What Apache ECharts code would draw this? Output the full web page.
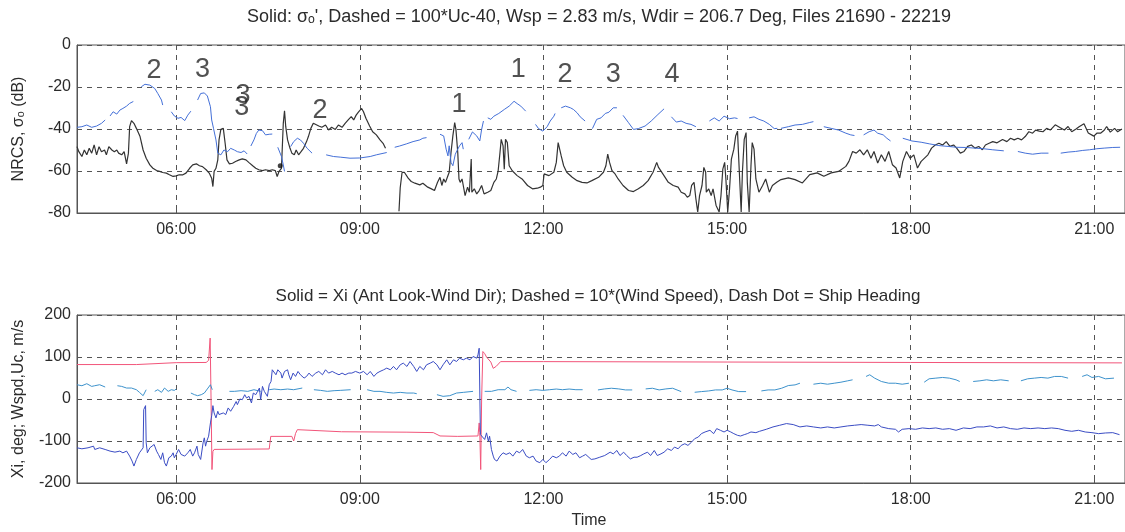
<!DOCTYPE html>
<html>
<head>
<meta charset="utf-8">
<script src="https://cdn.jsdelivr.net/npm/echarts@6/dist/echarts.min.js"></script>
<style>
  html, body { margin: 0; background: #fff; }
  #chart { width: 1125px; height: 532px; }
</style>
</head>
<body>
<div id="chart"></div>
<script>
// time axis, decimal hours
const tickHours = [6, 9, 12, 15, 18, 21]

// top panel: solid = sigma_o (dB), pieces of the line
const sigmaSolid = [
  [[4.38,-48.4],[4.41,-50.8],[4.46,-53.1],[4.50,-50.0],[4.54,-52.3],[4.58,-49.2],[4.62,-51.5],[4.66,-47.6],[4.70,-52.3],[4.74,-48.4],[4.78,-50.8],[4.83,-50.0],[4.86,-52.3],[4.90,-48.4],[4.95,-50.0],[4.99,-50.8],[5.03,-50.0],[5.06,-51.5],[5.11,-52.3],[5.15,-50.8],[5.19,-56.6],[5.22,-51.5],[5.24,-38.9],[5.27,-36.0],[5.31,-37.3],[5.35,-39.7],[5.41,-43.6],[5.46,-50.0],[5.51,-53.9],[5.57,-57.1],[5.62,-58.7],[5.68,-59.8],[5.73,-60.2],[5.78,-60.7],[5.84,-61.0],[5.89,-61.8],[5.95,-62.6],[6.00,-62.3],[6.05,-61.8],[6.11,-61.8],[6.16,-61.0],[6.22,-58.7],[6.27,-57.1],[6.33,-56.6],[6.38,-57.5],[6.43,-57.9],[6.49,-59.4],[6.54,-61.0],[6.58,-63.4],[6.60,-67.4],[6.62,-60.2],[6.65,-58.7],[6.68,-54.7],[6.70,-45.2],[6.73,-40.2],[6.77,-39.7],[6.80,-46.8],[6.83,-54.7],[6.87,-56.6],[6.92,-56.3],[6.97,-55.5],[7.03,-54.7],[7.08,-54.2],[7.14,-54.7],[7.19,-56.0],[7.25,-57.5],[7.30,-58.7],[7.35,-59.4],[7.41,-59.8],[7.46,-59.4],[7.52,-59.8],[7.57,-59.4],[7.62,-59.8],[7.65,-62.6],[7.68,-60.2],[7.72,-58.7],[7.75,-37.3],[7.77,-31.3],[7.79,-38.9],[7.82,-45.2],[7.86,-49.2],[7.89,-51.5],[7.93,-52.3],[7.96,-50.0],[8.00,-52.3],[8.04,-50.8],[8.08,-49.2],[8.13,-46.0],[8.16,-43.6],[8.20,-39.7],[8.24,-37.3],[8.27,-37.3],[8.33,-38.6],[8.38,-39.2],[8.44,-38.1],[8.49,-40.5],[8.54,-39.2],[8.60,-40.2],[8.65,-38.1],[8.71,-39.2],[8.76,-37.3],[8.81,-35.7],[8.86,-34.1],[8.90,-35.7],[8.94,-33.4],[8.98,-31.8],[9.03,-30.2],[9.06,-31.8],[9.10,-34.9],[9.16,-38.6],[9.21,-41.3],[9.27,-42.8],[9.33,-45.2],[9.38,-46.8],[9.42,-49.2]],
  [[9.64,-79.2],[9.66,-68.0],[9.69,-60.7],[9.73,-60.7],[9.79,-63.4],[9.84,-65.0],[9.90,-65.8],[9.98,-66.6],[10.03,-65.8],[10.06,-66.2],[10.11,-67.7],[10.17,-68.5],[10.22,-69.3],[10.25,-66.9],[10.27,-65.4],[10.31,-63.0],[10.34,-66.9],[10.37,-63.8],[10.40,-65.4],[10.43,-63.0],[10.46,-60.6],[10.49,-51.2],[10.52,-43.3],[10.55,-37.0],[10.57,-40.2],[10.60,-51.2],[10.62,-63.8],[10.64,-65.4],[10.67,-63.8],[10.69,-66.9],[10.72,-71.7],[10.76,-67.7],[10.79,-70.1],[10.82,-54.3],[10.83,-70.1],[10.87,-68.5],[10.91,-70.9],[10.95,-69.3],[10.99,-66.9],[11.03,-70.9],[11.09,-70.1],[11.14,-69.3],[11.19,-65.4],[11.23,-63.8],[11.26,-59.9],[11.29,-51.2],[11.31,-44.9],[11.34,-48.0],[11.36,-59.1],[11.38,-44.9],[11.41,-46.5],[11.44,-57.5],[11.49,-59.9],[11.57,-62.2],[11.65,-63.8],[11.74,-66.9],[11.82,-68.5],[11.90,-68.2],[11.95,-67.7],[11.99,-66.9],[12.01,-61.4],[12.09,-62.2],[12.17,-60.6],[12.21,-55.9],[12.24,-46.5],[12.26,-45.7],[12.29,-52.8],[12.33,-57.5],[12.38,-60.6],[12.47,-63.0],[12.55,-64.6],[12.63,-65.4],[12.71,-65.7],[12.79,-64.6],[12.90,-63.0],[12.98,-60.6],[13.02,-57.5],[13.05,-52.0],[13.08,-55.9],[13.12,-59.9],[13.17,-61.4],[13.22,-63.8],[13.30,-66.9],[13.39,-69.3],[13.47,-69.8],[13.55,-68.5],[13.63,-66.9],[13.71,-64.6],[13.79,-60.6],[13.85,-55.9],[13.88,-58.3],[13.95,-61.4],[14.04,-65.4],[14.12,-66.9],[14.20,-67.7],[14.25,-70.1],[14.31,-70.9],[14.35,-72.5],[14.39,-71.7],[14.42,-66.9],[14.46,-65.4],[14.49,-73.2],[14.52,-79.5],[14.55,-71.7],[14.59,-66.9],[14.62,-58.3],[14.65,-60.6],[14.66,-70.1],[14.70,-68.5],[14.74,-71.7],[14.77,-68.5],[14.82,-76.4],[14.87,-79.5],[14.90,-71.7],[14.93,-59.1],[14.96,-55.9],[14.98,-63.8],[15.01,-79.5],[15.04,-68.5],[15.07,-54.3],[15.11,-49.6],[15.14,-43.3],[15.17,-41.0],[15.20,-60.6],[15.23,-79.5],[15.25,-60.6],[15.28,-44.9],[15.31,-41.7],[15.33,-65.4],[15.36,-79.5],[15.39,-57.5],[15.41,-46.5],[15.44,-49.6],[15.47,-63.8],[15.52,-70.1],[15.58,-66.9],[15.63,-63.8],[15.69,-70.1],[15.74,-66.9],[15.81,-65.4],[15.88,-64.1],[16.00,-63.3],[16.11,-64.1],[16.23,-65.7],[16.35,-61.7],[16.47,-60.9],[16.58,-62.5],[16.70,-60.9],[16.82,-60.2],[16.94,-57.8],[16.99,-55.4],[17.05,-50.7],[17.11,-51.5],[17.17,-49.9],[17.23,-52.3],[17.29,-49.9],[17.35,-53.9],[17.40,-50.7],[17.46,-56.2],[17.52,-52.3],[17.58,-55.4],[17.64,-50.7],[17.70,-57.0],[17.76,-58.6],[17.82,-63.3],[17.87,-55.4],[17.93,-50.7],[17.99,-53.9],[18.05,-52.3],[18.11,-58.6],[18.17,-55.4],[18.28,-52.3],[18.34,-49.1],[18.40,-47.6],[18.46,-46.8],[18.52,-47.6],[18.58,-46.0],[18.64,-48.3],[18.70,-47.6],[18.75,-49.1],[18.81,-51.5],[18.87,-50.7],[18.93,-48.3],[18.99,-47.6],[19.05,-49.1],[19.11,-48.3],[19.17,-49.9],[19.22,-47.6],[19.28,-46.8],[19.34,-46.0],[19.41,-46.6],[19.50,-45.0],[19.57,-46.0],[19.63,-44.4],[19.69,-45.2],[19.75,-44.4],[19.81,-45.2],[19.87,-43.6],[19.93,-41.3],[19.99,-42.0],[20.04,-40.5],[20.10,-41.0],[20.16,-41.3],[20.22,-39.7],[20.28,-40.5],[20.36,-38.0],[20.45,-39.5],[20.51,-40.5],[20.57,-38.8],[20.63,-41.3],[20.70,-40.0],[20.75,-38.9],[20.83,-37.5],[20.90,-41.9],[20.99,-43.4],[21.04,-42.0],[21.10,-42.0],[21.16,-40.6],[21.20,-38.8],[21.26,-41.5],[21.33,-39.7],[21.38,-41.3],[21.45,-40.0]]
]

// top panel: dashed = 100*Uc-40, drawn in short pieces
const ucDashed = [
  [[4.38,-39.2],[4.46,-38.9],[4.54,-38.1],[4.62,-39.2],[4.70,-38.6],[4.78,-37.3],[4.84,-35.7]],
  [[4.92,-33.8],[4.97,-31.8],[5.03,-32.9],[5.08,-31.0],[5.13,-30.2],[5.19,-29.1],[5.24,-27.8],[5.30,-26.9]],
  [[5.43,-19.9],[5.49,-18.7],[5.57,-19.1],[5.65,-20.7],[5.70,-23.1],[5.76,-26.2],[5.78,-28.6]],
  [[5.92,-31.8],[5.97,-33.8],[6.03,-34.9],[6.08,-34.5],[6.14,-36.0],[6.19,-33.4],[6.24,-31.5]],
  [[6.35,-26.2],[6.40,-23.1],[6.46,-22.8],[6.51,-24.3],[6.56,-29.4],[6.58,-35.7],[6.61,-39.7],[6.65,-45.2],[6.68,-51.5],[6.73,-52.3],[6.78,-50.0],[6.84,-50.8],[6.89,-49.2],[6.95,-50.0],[7.00,-50.8],[7.06,-51.2],[7.11,-50.4],[7.16,-51.9]],
  [[7.22,-48.1],[7.27,-45.2],[7.31,-42.1],[7.35,-40.5],[7.41,-40.8],[7.46,-42.8],[7.52,-42.5],[7.57,-42.4]],
  [[7.66,-48.7],[7.72,-53.1],[7.75,-57.1],[7.77,-60.2]],
  [[7.87,-48.4],[7.92,-46.0],[7.98,-44.4],[8.03,-45.2],[8.08,-46.8],[8.14,-49.2],[8.22,-51.5]],
  [[8.45,-52.3],[8.57,-53.1],[8.68,-53.4],[8.84,-53.9],[9.00,-53.8],[9.17,-53.1],[9.27,-52.3],[9.44,-51.2]],
  [[9.57,-48.7],[9.65,-48.1],[9.76,-47.1],[9.87,-46.0],[9.98,-45.2],[10.03,-44.4],[10.09,-44.1]],
  [[10.31,-42.5],[10.37,-43.3],[10.41,-49.6],[10.44,-52.8],[10.46,-48.0],[10.49,-55.9],[10.52,-57.5],[10.56,-52.0],[10.60,-49.6],[10.63,-48.0],[10.67,-46.5],[10.69,-49.6]],
  [[10.78,-44.9],[10.84,-41.4],[10.91,-43.3],[10.96,-45.7],[10.99,-40.2],[11.02,-36.2]],
  [[11.09,-34.7],[11.14,-35.4],[11.19,-33.9],[11.27,-32.6],[11.36,-30.7],[11.44,-29.1],[11.52,-26.8],[11.57,-27.9],[11.63,-29.1],[11.71,-31.5]],
  [[11.87,-37.8],[11.92,-39.8],[11.99,-41.0],[12.06,-38.9],[12.11,-36.2],[12.17,-33.9],[12.19,-32.6]],
  [[12.29,-29.9],[12.36,-29.1],[12.44,-29.9],[12.49,-30.7],[12.55,-32.3],[12.60,-34.2],[12.68,-36.2]],
  [[12.80,-39.8],[12.87,-35.4],[12.94,-34.7],[13.01,-32.6],[13.07,-32.0],[13.14,-29.9],[13.20,-29.9]],
  [[13.30,-33.5],[13.39,-37.0],[13.47,-40.2],[13.55,-39.8],[13.66,-38.6],[13.76,-36.2],[13.87,-33.1],[13.97,-30.4]],
  [[14.09,-34.2],[14.17,-36.7],[14.25,-36.2],[14.33,-37.3],[14.41,-37.8],[14.49,-38.9]],
  [[14.71,-36.2],[14.79,-34.7],[14.87,-36.2],[14.95,-33.9],[15.04,-35.1],[15.12,-34.7],[15.17,-35.0]],
  [[15.36,-34.7],[15.44,-34.2],[15.52,-35.4],[15.60,-36.2],[15.69,-37.8],[15.77,-39.8],[15.82,-39.7]],
  [[15.88,-39.7],[16.00,-38.9],[16.11,-38.1],[16.23,-37.8],[16.35,-36.9],[16.41,-36.5]],
  [[16.58,-38.9],[16.70,-39.7],[16.82,-40.5],[16.94,-42.0],[17.02,-42.8],[17.08,-43.1]],
  [[17.23,-42.8],[17.32,-41.3],[17.40,-40.5],[17.46,-42.0],[17.55,-42.8],[17.61,-44.4],[17.67,-45.7]],
  [[17.87,-44.4],[18.02,-45.7],[18.17,-46.3],[18.31,-47.1],[18.46,-47.9],[18.61,-48.3],[18.75,-48.7],[18.90,-48.8],[19.05,-49.1],[19.19,-49.4],[19.34,-49.9],[19.52,-50.4]],
  [[19.75,-50.7],[19.87,-51.5],[19.99,-52.0],[20.13,-51.5],[20.25,-51.5]],
  [[20.45,-51.5],[20.57,-51.0],[20.69,-50.7],[20.81,-50.2],[20.92,-49.9],[21.04,-49.4],[21.16,-49.1],[21.30,-48.8],[21.42,-48.7]]
]

// run numbers written over the top panel
const runLabels = [
  [5.64,-12.0,'2'],[6.43,-11.5,'3'],[7.09,-24.0,'3'],[7.07,-30.0,'3'],[8.35,-31.0,'2'],
  [10.62,-28.4,'1'],[11.59,-11.8,'1'],[12.35,-14.2,'2'],[13.14,-14.2,'3'],[14.10,-14.2,'4']
]
const markerDot = [[7.70,-57.5]]

// bottom panel: solid = Xi (deg)
const xiSolid = [
  [4.38,-116.2],[4.46,-118.6],[4.56,-116.2],[4.65,-112.3],[4.67,-120.2],[4.75,-116.2],[4.84,-120.2],[4.92,-124.1],[5.00,-126.5],[5.08,-124.1],[5.13,-128.1],[5.19,-124.1],[5.24,-136.0],[5.28,-147.8],[5.31,-159.7],[5.35,-143.9],[5.40,-128.1],[5.43,-132.0],[5.46,-116.2],[5.47,-25.3],[5.50,-15.8],[5.51,-104.3],[5.53,-128.1],[5.57,-116.2],[5.60,-120.2],[5.64,-108.3],[5.68,-124.1],[5.71,-132.0],[5.75,-143.9],[5.78,-128.1],[5.81,-151.6],[5.84,-159.7],[5.88,-139.9],[5.92,-136.0],[5.95,-128.1],[5.97,-139.9],[6.00,-132.0],[6.04,-120.2],[6.08,-132.0],[6.14,-136.0],[6.19,-128.1],[6.23,-120.2],[6.27,-136.0],[6.30,-128.1],[6.34,-112.3],[6.36,-132.0],[6.40,-143.9],[6.42,-147.8],[6.44,-104.3],[6.46,-92.5],[6.48,-112.3],[6.50,-100.4],[6.53,-88.5],[6.56,-56.9],[6.58,-40.0],[6.60,-15.8],[6.62,-33.2],[6.65,-45.0],[6.68,-29.2],[6.70,-37.0],[6.73,-41.1],[6.77,-33.2],[6.81,-37.0],[6.85,-21.3],[6.89,-29.2],[6.94,-17.4],[6.98,-6.0],[7.00,-13.4],[7.04,0.0],[7.08,-1.6],[7.12,10.3],[7.15,2.4],[7.19,6.3],[7.23,-9.5],[7.26,14.2],[7.30,10.3],[7.33,18.2],[7.36,26.1],[7.38,-1.6],[7.41,30.0],[7.44,18.2],[7.46,14.2],[7.49,6.3],[7.52,34.0],[7.55,41.9],[7.57,69.6],[7.60,65.6],[7.63,57.7],[7.66,69.6],[7.71,61.7],[7.73,49.8],[7.77,65.6],[7.82,69.6],[7.84,57.7],[7.87,45.8],[7.91,61.7],[7.95,53.8],[7.99,65.6],[8.03,57.7],[8.09,49.8],[8.13,53.8],[8.17,61.7],[8.22,53.8],[8.28,61.7],[8.33,65.6],[8.39,57.7],[8.44,69.6],[8.49,61.7],[8.55,65.6],[8.60,61.7],[8.66,57.7],[8.71,61.7],[8.76,57.7],[8.82,61.7],[8.87,61.7],[8.93,65.6],[9.00,61.7],[9.06,65.6],[9.12,57.7],[9.17,65.6],[9.23,53.8],[9.28,61.7],[9.33,65.6],[9.39,69.6],[9.44,73.5],[9.50,69.6],[9.55,77.5],[9.60,69.6],[9.66,81.4],[9.71,85.4],[9.77,77.5],[9.82,89.3],[9.88,77.5],[9.93,65.6],[9.98,77.5],[10.04,69.6],[10.09,81.4],[10.15,85.4],[10.20,89.3],[10.26,81.4],[10.31,69.6],[10.36,81.4],[10.42,93.3],[10.47,81.4],[10.53,93.3],[10.58,89.3],[10.63,97.2],[10.69,93.3],[10.74,97.2],[10.80,93.3],[10.85,101.2],[10.91,97.2],[10.93,105.1],[10.95,120.9],[10.97,-84.6],[11.00,-84.6],[11.04,-96.4],[11.07,-80.6],[11.10,-100.4],[11.12,-88.5],[11.15,-120.2],[11.18,-136.0],[11.20,-143.9],[11.24,-147.8],[11.29,-136.0],[11.34,-128.1],[11.39,-132.0],[11.45,-128.1],[11.50,-136.0],[11.56,-124.1],[11.61,-128.1],[11.66,-120.2],[11.72,-136.0],[11.77,-139.9],[11.83,-136.0],[11.88,-147.8],[11.94,-151.6],[11.99,-143.9],[12.04,-151.6],[12.10,-143.9],[12.15,-136.0],[12.21,-139.9],[12.26,-136.0],[12.31,-128.1],[12.37,-136.0],[12.42,-124.1],[12.48,-132.0],[12.53,-128.1],[12.59,-139.9],[12.64,-136.0],[12.69,-132.0],[12.78,-143.9],[12.84,-142.6],[12.92,-138.6],[13.00,-134.6],[13.09,-126.6],[13.14,-130.6],[13.20,-122.6],[13.25,-134.6],[13.31,-126.6],[13.36,-134.6],[13.42,-142.6],[13.48,-138.6],[13.53,-138.6],[13.59,-134.6],[13.64,-130.6],[13.70,-126.6],[13.75,-134.6],[13.81,-122.6],[13.86,-134.6],[13.92,-130.6],[13.97,-126.6],[14.03,-118.5],[14.09,-122.6],[14.14,-114.5],[14.20,-118.5],[14.25,-110.5],[14.31,-106.5],[14.36,-110.5],[14.42,-102.5],[14.47,-94.5],[14.53,-90.5],[14.58,-82.5],[14.64,-78.5],[14.72,-74.5],[14.78,-82.5],[14.83,-70.5],[14.89,-74.5],[14.95,-78.5],[15.00,-74.5],[15.06,-78.5],[15.11,-82.5],[15.17,-86.5],[15.22,-88.1],[15.28,-84.9],[15.33,-82.5],[15.39,-78.5],[15.47,-80.1],[15.53,-76.9],[15.64,-72.1],[15.75,-66.5],[15.86,-62.5],[15.97,-58.5],[16.08,-60.9],[16.19,-66.5],[16.30,-64.1],[16.41,-66.5],[16.53,-68.9],[16.64,-66.5],[16.75,-68.9],[16.86,-66.5],[16.97,-64.1],[17.08,-62.5],[17.19,-60.9],[17.30,-62.5],[17.41,-64.1],[17.47,-60.9],[17.52,-66.5],[17.64,-70.5],[17.75,-72.1],[17.80,-78.5],[17.86,-72.1],[17.97,-70.5],[18.08,-72.1],[18.19,-68.9],[18.30,-70.5],[18.41,-68.9],[18.52,-72.1],[18.63,-70.5],[18.74,-74.5],[18.86,-68.9],[18.97,-70.5],[19.08,-66.5],[19.19,-66.5],[19.30,-64.1],[19.41,-68.9],[19.52,-66.5],[19.63,-70.5],[19.74,-72.1],[19.85,-68.9],[19.96,-70.5],[20.08,-68.9],[20.19,-70.5],[20.30,-68.9],[20.41,-70.5],[20.52,-74.5],[20.63,-76.9],[20.74,-74.5],[20.85,-78.5],[20.96,-80.1],[21.07,-82.5],[21.18,-80.9],[21.30,-80.1],[21.41,-84.9]
]

// bottom panel: dashed = 10*(wind speed), in pieces
const windDashed = [
  [[4.38,34.0],[4.46,31.6],[4.54,36.4],[4.62,30.0],[4.67,31.6],[4.75,34.0],[4.84,28.5]],
  [[5.04,31.6],[5.11,30.0],[5.19,26.1],[5.27,26.1],[5.35,22.1],[5.40,15.8],[5.46,7.9],[5.49,4.7],[5.51,22.1]],
  [[5.65,18.2],[5.70,22.1],[5.76,15.8],[5.81,26.1],[5.87,18.2],[5.92,22.1],[5.97,20.5],[6.00,23.7]],
  [[6.24,14.2],[6.30,10.3],[6.35,7.9],[6.41,10.3],[6.46,14.2],[6.52,26.1],[6.56,34.0],[6.59,22.1]],
  [[6.87,18.2],[6.95,18.2],[7.06,19.8],[7.17,18.2],[7.27,22.1],[7.38,18.2]],
  [[7.52,22.1],[7.60,23.7],[7.71,22.1],[7.82,23.7],[7.92,22.1],[8.06,26.1]],
  [[8.25,22.1],[8.36,20.5],[8.47,18.2],[8.58,19.8],[8.68,20.5],[8.85,22.1]],
  [[9.12,22.1],[9.23,18.2],[9.33,18.2],[9.44,15.8],[9.55,14.2],[9.66,15.8],[9.77,14.2],[9.88,14.2],[9.93,12.6]],
  [[10.26,10.3],[10.36,6.3],[10.47,7.9],[10.58,14.2],[10.69,15.8],[10.85,18.2]],
  [[11.04,18.2],[11.15,18.2],[11.26,22.1],[11.37,22.1],[11.42,28.5],[11.47,22.1],[11.56,18.2]],
  [[11.77,20.5],[11.88,22.1],[11.99,20.5],[12.10,22.1],[12.21,23.7],[12.31,22.1],[12.42,23.7],[12.53,22.1],[12.64,22.1]],
  [[12.89,21.6],[13.00,24.0],[13.11,25.6],[13.23,24.0],[13.34,21.6],[13.45,21.6]],
  [[13.67,24.0],[13.78,25.6],[13.89,21.6],[14.00,24.0],[14.11,25.6],[14.25,17.6]],
  [[14.47,16.0],[14.58,17.6],[14.70,19.2],[14.81,21.6],[14.92,21.6],[15.00,25.6],[15.08,21.6],[15.19,17.6],[15.31,17.6]],
  [[15.56,19.2],[15.67,21.6],[15.78,21.6],[15.89,25.6],[16.00,32.0],[16.11,33.6],[16.19,37.6]],
  [[16.41,35.2],[16.53,37.6],[16.64,35.2],[16.75,37.6],[16.86,40.0],[16.97,43.3],[17.05,45.7]],
  [[17.27,53.7],[17.33,57.7],[17.41,49.7],[17.52,41.7],[17.64,37.6],[17.75,37.6],[17.86,35.2],[17.97,37.6]],
  [[18.22,40.0],[18.30,48.1],[18.41,49.7],[18.52,51.3],[18.63,49.7],[18.74,45.7],[18.80,41.7]],
  [[19.02,41.7],[19.13,43.3],[19.24,45.7],[19.35,43.3],[19.47,45.7],[19.60,43.3]],
  [[19.80,43.3],[19.91,48.1],[20.02,49.7],[20.13,51.3],[20.24,49.7],[20.35,53.7],[20.46,53.7],[20.57,49.7]],
  [[20.80,53.7],[20.88,57.7],[20.96,51.3],[21.07,53.7],[21.18,48.1],[21.32,49.7]]
]

// bottom panel: dash dot = ship heading
const shipHeading = [
  [4.38,82],[5.35,82],[5.38,86],[6.00,86.5],[6.49,87],[6.53,92],[6.555,145],[6.57,0],[6.585,-168],[6.60,-125],[6.62,-120],[7.52,-119],[7.545,-89],[7.89,-89],[7.92,-100],[7.95,-82],[7.98,-73],[8.01,-77],[8.70,-78],[9.77,-79],[10.20,-80],[10.31,-88],[10.60,-89],[10.93,-88],[10.95,-57],[10.96,-80],[10.975,-168],[10.99,0],[11.01,113],[11.04,108],[11.07,100],[11.14,88],[11.18,73],[11.23,78],[11.30,89],[12.00,89],[15.00,88],[18.00,87],[21.45,86]
]

function joinPieces(pieces) {
  const out = []
  pieces.forEach((p, i) => {
    if (i > 0) out.push([(pieces[i - 1][pieces[i - 1].length - 1][0] + p[0][0]) / 2, null])
    p.forEach(pt => out.push(pt))
  })
  return out
}

const font = "'Liberation Sans', Arial, sans-serif"
const ink = '#2b2b2b'
const axisColor = '#555'
const hhmm = v => (v < 10 ? '0' : '') + v + ':00'

function timeAxis(gridIndex, extra) {
  return Object.assign({
    type: 'value', gridIndex: gridIndex, min: 4.38, max: 21.5,
    axisLine: { show: true, onZero: false, lineStyle: { color: axisColor } },
    axisTick: { show: true, inside: true, length: 5, customValues: tickHours, lineStyle: { color: axisColor } },
    axisLabel: { customValues: tickHours, formatter: hhmm, fontSize: 16, color: ink, fontFamily: font, margin: 9 },
    splitLine: { show: true, lineStyle: { type: [5, 5], color: axisColor, width: 1 } }
  }, extra || {})
}

function valueAxis(gridIndex, min, max, interval, name) {
  return {
    type: 'value', gridIndex: gridIndex, min: min, max: max, interval: interval,
    name: name, nameLocation: 'middle', nameGap: 50,
    nameTextStyle: { fontSize: 16, color: ink, fontFamily: font },
    axisLine: { show: true, onZero: false, lineStyle: { color: axisColor } },
    axisTick: { show: true, inside: true, length: 5, lineStyle: { color: axisColor } },
    axisLabel: { fontSize: 16, color: ink, fontFamily: font, margin: 6 },
    splitLine: { show: true, lineStyle: { type: [5, 5], color: axisColor, width: 1 } }
  }
}

function line(name, data, xi, color, extra) {
  return Object.assign({
    name: name, type: 'line', xAxisIndex: xi, yAxisIndex: xi, data: data,
    showSymbol: false, connectNulls: false, animation: false, silent: true,
    lineStyle: { width: 1, color: color }, z: 3
  }, extra || {})
}

const chart = echarts.init(document.getElementById('chart'), null, { renderer: 'canvas' })
chart.setOption({
  backgroundColor: '#fff',
  animation: false,
  title: [
    {
      text: "Solid: σₒ', Dashed = 100*Uc-40, Wsp = 2.83 m/s, Wdir = 206.7 Deg, Files 21690 - 22219",
      left: 599, top: 8, textAlign: 'center', padding: 0,
      textStyle: { fontSize: 18, fontWeight: 'normal', color: ink, fontFamily: font }
    },
    {
      text: 'Solid = Xi (Ant Look-Wind Dir); Dashed = 10*(Wind Speed), Dash Dot = Ship Heading',
      left: 598, top: 288, textAlign: 'center', padding: 0,
      textStyle: { fontSize: 17, fontWeight: 'normal', color: ink, fontFamily: font }
    }
  ],
  grid: [
    { left: 77, top: 45, width: 1051, height: 168, show: true, borderColor: axisColor, borderWidth: 1, backgroundColor: 'transparent' },
    { left: 77, top: 315, width: 1051, height: 168, show: true, borderColor: axisColor, borderWidth: 1, backgroundColor: 'transparent' }
  ],
  xAxis: [
    timeAxis(0),
    timeAxis(1, { name: 'Time', nameLocation: 'middle', nameGap: 30,
      nameTextStyle: { fontSize: 16, color: ink, fontFamily: font, padding: [0, 24, 0, 0] } })
  ],
  yAxis: [
    valueAxis(0, -80, 0, 20, 'NRCS, σₒ (dB)'),
    valueAxis(1, -200, 200, 100, 'Xi, deg; Wspd,Uc, m/s')
  ],
  series: [
    line('sigma', joinPieces(sigmaSolid), 0, '#333333', { lineStyle: { width: 1.2, color: '#333333' } }),
    line('Uc', joinPieces(ucDashed), 0, '#4470d8'),
    {
      type: 'scatter', xAxisIndex: 0, yAxisIndex: 0, data: markerDot, symbolSize: 5,
      itemStyle: { color: '#111' }, animation: false, silent: true, z: 4
    },
    {
      type: 'scatter', xAxisIndex: 0, yAxisIndex: 0, data: runLabels, symbolSize: 1,
      itemStyle: { color: 'rgba(0,0,0,0)' }, animation: false, silent: true, z: 5,
      label: { show: true, position: 'inside', formatter: p => p.value[2],
        fontSize: 27, color: '#262626', fontFamily: font }
    },
    line('heading', shipHeading, 1, '#f2557a'),
    line('wind', joinPieces(windDashed), 1, '#3d92cc'),
    line('xi', xiSolid, 1, '#3a4cc4', { z: 4 })
  ]
})
</script>
</body>
</html>
